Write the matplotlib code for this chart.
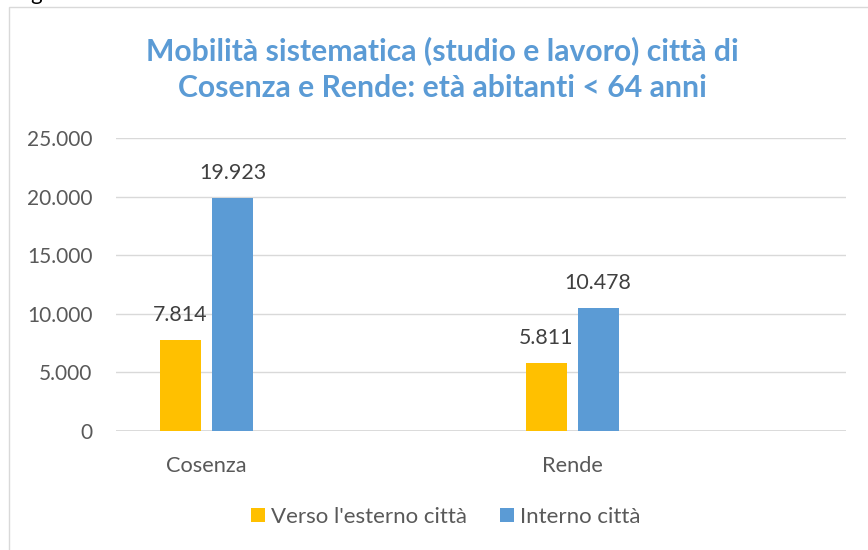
import matplotlib
matplotlib.use("Agg")
import matplotlib.pyplot as plt
from matplotlib.patches import Rectangle, Patch
import numpy as np

categories = ["Cosenza", "Rende"]
series_names = ["Verso l'esterno città", "Interno città"]
esterno = [7814, 5811]
interno = [19923, 10478]
yticks = [0, 5000, 10000, 15000, 20000, 25000]
ytick_labels = ["0", "5.000", "10.000", "15.000", "20.000", "25.000"]
title = "Mobilità sistematica (studio e lavoro) città di\nCosenza e Rende: età abitanti < 64 anni"

def fmt(v):
    return f"{v:,}".replace(",", ".")

W, H = 868, 550
fig = plt.figure(figsize=(W / 100, H / 100), dpi=100)
plt.rcParams['font.family'] = ['Lato', 'DejaVu Sans']

# chart frame
fig.patches.append(Rectangle((9 / W, -0.1), 1.2, 1 - 7 / H + 0.1, transform=fig.transFigure,
                             fill=False, edgecolor="#D9D9D9", linewidth=1.0))
fig.text(30 / W, 1 + 0.5 / H, "g", fontsize=16, color="black", va="baseline", ha="left")

ax = fig.add_axes([116 / W, 1 - 431 / H, (846 - 116) / W, (431 - 138.4) / H])
x = np.arange(len(categories))
bw = 0.112
off = 0.0711
colors = ["#FFC000", "#5B9BD5"]
b1 = ax.bar(x - off, esterno, bw, color=colors[0], zorder=3)
b2 = ax.bar(x + off, interno, bw, color=colors[1], zorder=3)
for bars, vals in ((b1, esterno), (b2, interno)):
    for r, v in zip(bars, vals):
        ax.annotate(fmt(v), (r.get_x() + r.get_width() / 2, v), xytext=(0, 25),
                    textcoords="offset pixels", ha="center", va="center",
                    fontsize=15.4, color="#404040")

ax.set_xlim(-0.2475, 1.749)
ax.set_ylim(0, 25000)
ax.set_yticks(yticks)
ax.set_yticklabels(ytick_labels)
ax.set_xticks(x)
ax.set_xticklabels(categories)
ax.yaxis.grid(True, color="#D9D9D9", linewidth=1.0, zorder=0)
ax.set_axisbelow(True)
for s in ax.spines.values():
    s.set_visible(False)
ax.axhline(0, color="#D9D9D9", linewidth=1.3, zorder=2)
ax.tick_params(axis="both", length=0, labelcolor="#595959")
ax.tick_params(axis="y", pad=17, labelsize=15)
ax.tick_params(axis="x", pad=18, labelsize=15.7)

fig.text(442 / W, 1 - 69 / H, title, ha="center", va="center", fontsize=21.7, fontweight="bold",
         color="#5B9BD5", linespacing=1.42)

handles = [Patch(facecolor=c) for c in colors]
fig.legend(handles, series_names, loc="center", bbox_to_anchor=(446 / W, 1 - 517 / H),
           ncol=2, frameon=False, fontsize=16, labelcolor="#595959",
           handlelength=0.63, handleheight=0.63, handletextpad=0.27, columnspacing=1.49)

fig.savefig("out.png", dpi=100)
